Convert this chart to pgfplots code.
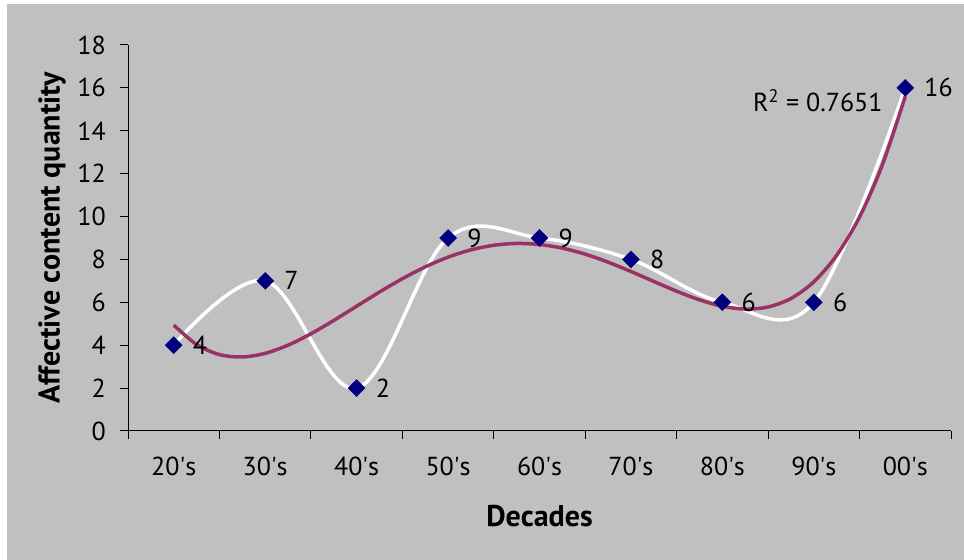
\documentclass[border=0pt]{standalone}
\usepackage{pgfplots}
\pgfplotsset{compat=1.18}
\usepackage{fontspec}
\setmainfont{PT Sans}
\definecolor{bg}{HTML}{C0C0C0}
\definecolor{navy}{HTML}{000080}
\definecolor{trend}{HTML}{993366}
\begin{document}
\fontsize{26bp}{30bp}\selectfont
\begin{tikzpicture}
\fill[white] (0,0) rectangle (964bp,560bp);
\fill[bg] (7bp,0) rectangle (964bp,556bp);
\useasboundingbox (0,0) rectangle (964bp,560bp);
\begin{axis}[
  at={(128bp,129bp)}, anchor=south west,
  scale only axis, width=823bp, height=386bp,
  xmin=0.5, xmax=9.5, ymin=0, ymax=18,
  axis x line*=bottom, axis y line*=left,
  axis line style={black, line width=1bp, -},
  every tick/.style={black, line width=1bp},
  tick align=outside, major tick length=8bp,
  ytick={0,2,...,18},
  xtick={0.5,1.5,...,9.5}, xticklabels={},
  extra x ticks={1,2,3,4,5,6,7,8,9},
  extra x tick labels={20\textquotesingle s,30\textquotesingle s,40\textquotesingle s,50\textquotesingle s,60\textquotesingle s,70\textquotesingle s,80\textquotesingle s,90\textquotesingle s,00\textquotesingle s},
  extra x tick style={major tick length=0pt},
  /pgf/number format/assume math mode=true,
  yticklabel style={anchor=east, inner sep=0pt, xshift=-14bp},
  xticklabel style={anchor=north, inner sep=0pt, yshift=-26bp},
  xlabel={\fontsize{30bp}{34bp}\selectfont\bfseries Decades},
  xlabel style={at={(axis description cs:0.5,-0.2202)}, anchor=center},
  ylabel={\fontsize{30bp}{34bp}\selectfont\bfseries Affective content quantity},
  ylabel style={at={(axis description cs:-0.0923,0.5)}, anchor=center},
]
\addplot[white, line width=3.5bp, smooth, tension=0.6] coordinates {
(1,4) (2,7) (3,2) (4,9) (5,9) (6,8) (7,6) (8,6) (9,16)};
\addplot[trend, line width=3.5bp, smooth] coordinates {
(1,4.939) (1.25,4.032) (1.5,3.564) (1.75,3.452) (2,3.621) (2.25,4.003)
(2.5,4.533) (2.75,5.155) (3,5.818) (3.25,6.479) (3.5,7.101) (3.75,7.651)
(4,8.106) (4.25,8.447) (4.5,8.661) (4.75,8.745) (5,8.697) (5.25,8.526)
(5.5,8.245) (5.75,7.874) (6,7.439) (6.25,6.974) (6.5,6.518) (6.75,6.115)
(7,5.818) (7.25,5.686) (7.5,5.783) (7.75,6.180) (8,6.955) (8.25,8.192)
(8.5,9.980) (8.75,12.416) (9,15.606)};
\addplot[only marks, mark=square*, mark size=6bp,
  mark options={rotate=45, fill=navy, draw=navy},
  nodes near coords,
  nodes near coords style={anchor=west, inner sep=0pt, xshift=19bp, black}]
  coordinates {(1,4) (2,7) (3,2) (4,9) (5,9) (6,8) (7,6) (8,6) (9,16)};
\node[anchor=base west, inner sep=0pt] at (axis cs:7.335,14.92) {R\textsuperscript{2} = 0.7651};
\end{axis}
\end{tikzpicture}
\end{document}
